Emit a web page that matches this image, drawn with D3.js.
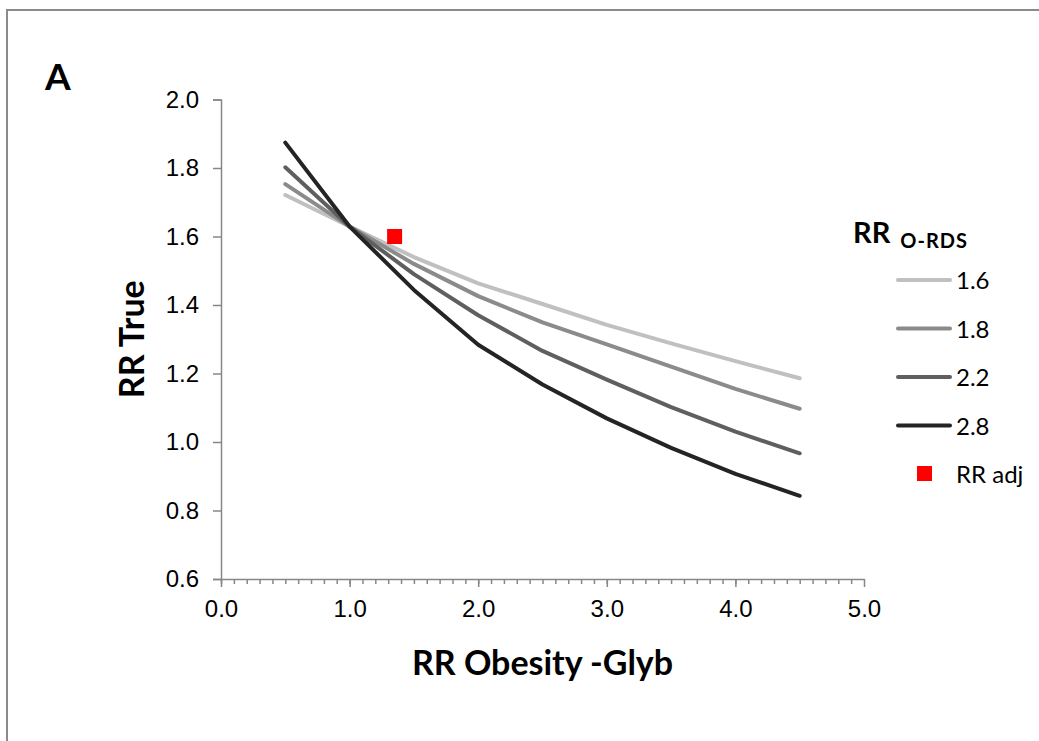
<!DOCTYPE html>
<html>
<head>
<meta charset="utf-8">
<script src="https://cdn.jsdelivr.net/npm/d3@7"></script>
<style>
  body { margin: 0; background: #fff; }
  svg { display: block; font-family: Lato, "Open Sans", sans-serif; }
</style>
</head>
<body>
<div id="chart"></div>
<script>
// RR Obesity-Glyb values (x) and RR True for each RR O-RDS
const rrObesity = [0.5, 1.0, 1.5, 2.0, 2.5, 3.0, 3.5, 4.0, 4.5];
const rrTrue16 = [1.721, 1.629, 1.540, 1.463, 1.403, 1.342, 1.288, 1.236, 1.186];
const rrTrue18 = [1.753, 1.629, 1.520, 1.426, 1.349, 1.285, 1.220, 1.155, 1.097];
const rrTrue22 = [1.802, 1.629, 1.490, 1.370, 1.266, 1.182, 1.102, 1.030, 0.967];
const rrTrue28 = [1.874, 1.629, 1.444, 1.284, 1.168, 1.069, 0.983, 0.907, 0.843];
const seriesNames = ["1.6", "1.8", "2.2", "2.8"];
const rrAdj = { x: 1.35, y: 1.6 };
const yTicks = [0.6, 0.8, 1.0, 1.2, 1.4, 1.6, 1.8, 2.0];
const xTicks = [0, 1, 2, 3, 4, 5];

const width = 1039, height = 741;
const lineColors = ["#c0c0c0", "#8b8b8b", "#5f5f5f", "#242424"];
const axisColor = "#878787";

const svg = d3.select("#chart").append("svg")
    .attr("width", width)
    .attr("height", height);

svg.append("rect").attr("width", width).attr("height", height).attr("fill", "#fff");

// marco del gráfico (sale por la derecha y por abajo)
svg.append("rect")
    .attr("x", 7).attr("y", 10)
    .attr("width", 1100).attr("height", 800)
    .attr("fill", "none")
    .attr("stroke", "#8a8a8a")
    .attr("stroke-width", 2);

const x = d3.scaleLinear().domain([0, 5]).range([221, 864]);
const y = d3.scaleLinear().domain([0.6, 2.0]).range([579, 99.5]);

// eje Y
const gy = svg.append("g")
    .attr("transform", `translate(${x(0)},0)`)
    .call(d3.axisLeft(y).tickValues(yTicks).tickFormat(d3.format(".1f")).tickSize(8).tickPadding(14));
gy.select(".domain").attr("stroke", axisColor).attr("stroke-width", 1.5);
gy.selectAll(".tick line").attr("stroke", axisColor).attr("stroke-width", 1.5);
gy.selectAll("text").style("font-size", "24px").attr("fill", "#000");

// eje X: marcas menores cada 0.1
const gxMinor = svg.append("g")
    .attr("transform", `translate(0,${y(0.6)})`)
    .call(d3.axisBottom(x).tickValues(d3.range(0, 50).map(i => i / 10)).tickFormat("").tickSize(5).tickSizeOuter(0));
gxMinor.select(".domain").attr("stroke", axisColor).attr("stroke-width", 1.5);
gxMinor.selectAll(".tick line").attr("stroke", axisColor).attr("stroke-width", 1.5);

const gx = svg.append("g")
    .attr("transform", `translate(0,${y(0.6)})`)
    .call(d3.axisBottom(x).tickValues(xTicks).tickFormat(d3.format(".1f")).tickSize(8).tickPadding(13));
gx.select(".domain").remove();
gx.selectAll(".tick line").attr("stroke", axisColor).attr("stroke-width", 1.5);
gx.selectAll("text").style("font-size", "24px").attr("fill", "#000");

// títulos
svg.append("text")
    .attr("x", 45).attr("y", 90)
    .style("font-size", "37px").style("font-weight", "700")
    .text("A");

svg.append("text")
    .attr("x", (x(0) + x(5)) / 2).attr("y", 675)
    .attr("text-anchor", "middle")
    .style("font-size", "34px").style("font-weight", "700")
    .text("RR Obesity -Glyb");

svg.append("text")
    .attr("transform", `translate(144,${(y(0.6) + y(2.0)) / 2}) rotate(-90)`)
    .attr("text-anchor", "middle")
    .style("font-size", "34px").style("font-weight", "700")
    .text("RR True");

// curvas
const series = [rrTrue16, rrTrue18, rrTrue22, rrTrue28];
const line = d3.line()
    .x((d, i) => x(rrObesity[i]))
    .y(d => y(d));

svg.selectAll(".curve")
    .data(series).enter().append("path")
    .attr("class", "curve")
    .attr("d", d => line(d))
    .attr("fill", "none")
    .attr("stroke", (d, i) => lineColors[i])
    .attr("stroke-width", 4)
    .attr("stroke-linecap", "round")
    .attr("stroke-linejoin", "round");

// punto RR adj
svg.append("rect")
    .attr("x", x(rrAdj.x) - 7.5).attr("y", y(rrAdj.y) - 7.5)
    .attr("width", 15).attr("height", 15)
    .attr("fill", "#ff0000");

// leyenda
const legend = svg.append("g");
const legendTitle = legend.append("text")
    .attr("x", 853).attr("y", 243)
    .style("font-weight", "700");
legendTitle.append("tspan").style("font-size", "29px").text("RR");
legendTitle.append("tspan").attr("dx", 10).attr("dy", 5)
    .style("font-size", "20px").style("letter-spacing", "1px").text("O-RDS");

const rows = legend.selectAll(".row")
    .data(seriesNames).enter().append("g")
    .attr("class", "row")
    .attr("transform", (d, i) => `translate(0,${280 + i * 48.5})`);

rows.append("line")
    .attr("x1", 898).attr("x2", 950)
    .attr("stroke", (d, i) => lineColors[i])
    .attr("stroke-width", 4)
    .attr("stroke-linecap", "round");

rows.append("text")
    .attr("x", 956).attr("y", 9)
    .style("font-size", "24px")
    .text(d => d);

legend.append("rect")
    .attr("x", 917).attr("y", 466)
    .attr("width", 15).attr("height", 15)
    .attr("fill", "#ff0000");
legend.append("text")
    .attr("x", 956).attr("y", 483)
    .style("font-size", "24px")
    .text("RR adj");
</script>
</body>
</html>
